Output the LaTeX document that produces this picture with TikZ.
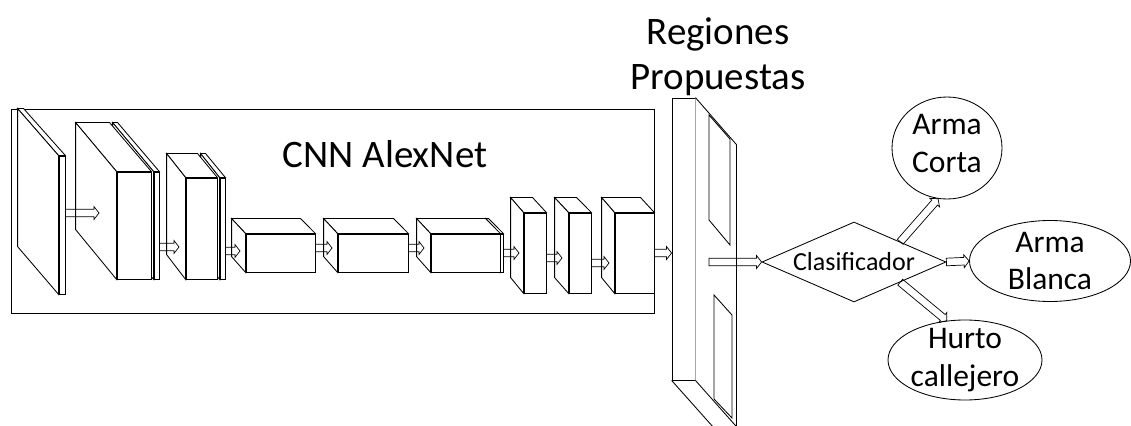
\documentclass[tikz,border=0pt]{standalone}
\usepackage{fontspec}
\setmainfont{Carlito}
\usetikzlibrary{shapes}
\usetikzlibrary{positioning}
\usetikzlibrary{calc}
\tikzset{
    face/.style = {rectangle, draw=black, fill=white, inner sep=0pt, line width=0.6pt},
    side/.style = {draw=black, fill=white, line width=0.6pt},
    hollow/.style = {draw=black, line width=0.5pt, line join=miter,
      to path={let \p1=($(\tikztotarget)-(\tikztostart)$), \n1={veclen(\x1,\y1)-3.6}, \n2={atan2(\y1,\x1)} in
        (\tikztostart) -- ++(\n2+90:2.7pt) -- ++(\n2:\n1) -- ++(\n2+90:1.9pt) -- (\tikztotarget)
        -- ($(\tikztostart)+(\n2:\n1)+(\n2-90:4.6pt)$) -- ++(\n2+90:1.9pt)
        -- ($(\tikztostart)+(\n2-90:2.7pt)$) -- cycle}},
    classnode/.style = {ellipse, draw=black, inner sep=0pt, line width=0.6pt},
    decide/.style = {diamond, draw=black, inner sep=0pt, aspect=2.3, line width=0.6pt, font=\fontsize{18.5}{22}\selectfont},
    bigtitle/.style = {align=center, inner sep=0pt, font=\fontsize{27.7}{32}\selectfont},
    lbl/.style = {align=center, inner sep=0pt, font=\fontsize{22.4}{27}\selectfont},
}
% layer: name, front x0, y0, x1, y1, depth dx, dy (pixels, y down)
\newcommand{\layer}[7]{%
  \node[face, minimum width={(#4-#2)*0.025cm}, minimum height={(#5-#3)*0.025cm}] (#1) at ({(#2+#4)/2},{(#3+#5)/2}) {};
  \filldraw[side] (#1.north west) -- ++(-#6,-#7) -- ++({#4-#2},0) -- (#1.north east) -- cycle;
  \filldraw[side] (#1.north west) -- ++(-#6,-#7) -- ++(0,{#5-#3}) -- (#1.south west) -- cycle;
}

\begin{document}
\begin{tikzpicture}[x=0.025cm,y=-0.025cm]
\useasboundingbox (0,0) rectangle (1131,426);
% CNN frame
\node[face, minimum width=643*0.025cm, minimum height=204*0.025cm] at (332.5,211) (cnn) {};
\node[bigtitle] at (385,154) (cnntitle) {CNN AlexNet};
%
\layer{s1}{59}{156}{65}{294}{41}{47}
\layer{c1b}{154}{172}{159}{279}{41}{49}
\layer{c1}{117}{172}{151}{279}{41}{49}
\layer{c2b}{220}{178}{225}{279}{19}{24}
\layer{c2}{186}{178}{217}{279}{19}{24}
\layer{c3}{246}{234}{315}{272}{14}{15}
\layer{c4}{338}{234}{408}{272}{14}{15}
\layer{c5b}{500}{234}{503}{272}{14}{15}
\layer{c5}{431}{234}{500}{272}{14}{15}
\layer{c6}{524}{213}{546}{293}{13}{15}
\layer{c7}{569}{213}{591}{293}{14}{15}
\layer{c8}{615}{213}{654}{293}{13}{15}
%
\coordinate (t1) at (99,213);
\coordinate (t2) at (179,247);
\coordinate (t3) at (240,251);
\coordinate (t4) at (332,248);
\coordinate (t5) at (424,248);
\coordinate (t6) at (519,253);
\coordinate (t7) at (562,258);
\coordinate (t8) at (609,263);
\coordinate (t9) at (672,253);
\draw[hollow] (s1.east |- t1) to (t1);
\draw[hollow] (c1b.east |- t2) to (t2);
\draw[hollow] (c2b.east |- t3) to (t3);
\draw[hollow] (c3.east |- t4) to (t4);
\draw[hollow] (c4.east |- t5) to (t5);
\draw[hollow] (c5b.east |- t6) to (t6);
\draw[hollow] (c6.east |- t7) to (t7);
\draw[hollow] (c7.east |- t8) to (t8);
% region proposals
\node[face, minimum width=23*0.025cm, minimum height=282*0.025cm] at (683.5,239) (rp) {};
\draw[side] (rp.north east) -- ++(41,47) -- ++(0,282) -- (rp.south east);
\draw[side] (rp.south west) -- ++(41,46);
\draw[side] (709,115) -- (730,139) -- (730,245) -- (709,220) -- cycle;
\draw[side] (714,295) -- (732,315) -- (732,418) -- (714,399) -- cycle;
\node[bigtitle] at (718,57) (rptitle) {Regiones\\Propuestas};
\draw[hollow] (c8.east |- t9) to (rp.west |- t9);
%
\node[decide, minimum width=184*0.025cm, minimum height=80*0.025cm] at (854,262) (cls) {Clasificador};
\node[classnode, minimum width=110*0.025cm, minimum height=102*0.025cm, label={[lbl, yshift=3.5pt]center:Arma\\Corta}] at (947,148) (corta) {};
\node[classnode, minimum width=161*0.025cm, minimum height=81*0.025cm, label={[lbl]center:Arma\\Blanca}] at (1050,261) (blanca) {};
\node[classnode, minimum width=154*0.025cm, minimum height=80*0.025cm, label={[lbl]center:Hurto\\callejero}] at (965,360) (hurto) {};
%
\coordinate (rpout) at (709,262);
\draw[hollow] (rpout) to (cls.west);
\draw[hollow] (cls.north east) to (corta.260);
\draw[hollow] (cls.east) to (blanca.west);
\draw[hollow] (cls.south east) to (hurto.115);
\end{tikzpicture}
\end{document}
